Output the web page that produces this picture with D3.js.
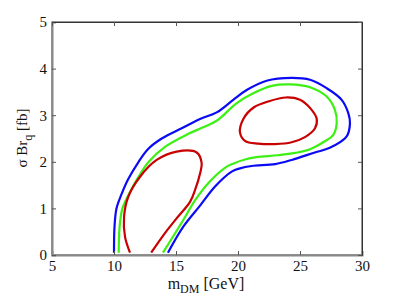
<!DOCTYPE html>
<html><head><meta charset="utf-8">
<script src="https://cdn.jsdelivr.net/npm/d3@7"></script>
<style>body{margin:0;background:#fff}svg{display:block}</style>
</head><body>
<script>
const xTicks = [5,10,15,20,25,30];
const yTicks = [0,1,2,3,4,5];
// contour level curves [x (GeV), y (fb)]
const blueCurve = [[10.0,0.05],[10.04,0.6],[10.2,1.0],[10.6,1.3],[11.15,1.63],[11.96,1.99],[12.77,2.28],[13.85,2.5],[15.46,2.72],[16.94,2.92],[18.28,3.06],[19.62,3.33],[20.70,3.54],[22.31,3.74],[24.33,3.80],[25.81,3.76],[27.15,3.58],[28.36,3.33],[28.90,3.04],[29.03,2.83],[28.75,2.54],[27.4,2.3],[26.2,2.2],[24.33,2.04],[23.0,1.95],[21.1,1.91],[20.16,1.86],[19.49,1.79],[18.15,1.47],[16.94,1.06],[15.59,0.61],[14.35,0.05]];
const greenCurve = [[10.38,0.05],[10.45,0.6],[10.68,1.0],[11.25,1.33],[11.96,1.67],[12.77,1.99],[14.11,2.32],[16.0,2.6],[17.1,2.73],[18.28,2.88],[19.90,3.26],[21.23,3.47],[22.72,3.63],[24.19,3.66],[25.81,3.60],[27.15,3.40],[27.82,3.11],[27.96,2.83],[27.69,2.58],[27.0,2.44],[25.81,2.27],[24.6,2.19],[23.2,2.14],[21.5,2.1],[20.56,2.05],[19.6,1.96],[18.95,1.87],[17.6,1.54],[16.53,1.17],[15.59,0.75],[13.95,0.05]];
const redCurveA = [[11.29,0.05],[10.89,0.39],[10.81,0.82],[11.15,1.25],[12.10,1.68],[13.44,2.04],[15.06,2.22],[16.67,2.20],[17.07,1.97],[16.94,1.75],[16.53,1.39],[16.13,1.14],[15.06,0.79],[14.11,0.47],[13.0,0.05]];
const redCurveB = [[20.16,2.63],[20.43,2.92],[21.29,3.17],[22.50,3.30],[23.87,3.38],[25.0,3.33],[25.89,3.13],[26.35,2.92],[26.21,2.72],[25.40,2.53],[24.33,2.42],[22.98,2.38],[21.64,2.39],[20.56,2.45]];

const W=399,H=299, L=52,R=362,T=22,B=255;
const svg=d3.select("body").append("svg").attr("width",W).attr("height",H);
const x=d3.scaleLinear().domain([5,30]).range([L,R]);
const y=d3.scaleLinear().domain([0,5]).range([B,T]);
const font="'Liberation Serif','Times New Roman',serif";

// frame
svg.append("rect").attr("x",L).attr("y",T).attr("width",R-L).attr("height",B-T).attr("fill","#fff").attr("stroke","#333").attr("stroke-width",1);

const line=d3.line().x(d=>x(d[0])).y(d=>y(d[1])).curve(d3.curveCatmullRom.alpha(0.5));
const lineC=d3.line().x(d=>x(d[0])).y(d=>y(d[1])).curve(d3.curveCatmullRomClosed.alpha(0.5));
const g=svg.append("g");
g.append("path").attr("d",line(blueCurve)).attr("fill","none").attr("stroke","#0a0af5").attr("stroke-width",2.2);
g.append("path").attr("d",line(greenCurve)).attr("fill","none").attr("stroke","#3cf014").attr("stroke-width",2.2);
g.append("path").attr("d",line(redCurveA)).attr("fill","none").attr("stroke","#c80000").attr("stroke-width",2.2);
g.append("path").attr("d",lineC(redCurveB)).attr("fill","none").attr("stroke","#c80000").attr("stroke-width",2.2);

// axes
const xa=svg.append("g").attr("transform",`translate(0,${B})`).call(d3.axisBottom(x).tickValues(xTicks).tickSize(-4).tickPadding(5).tickFormat(d3.format("d")));
const ya=svg.append("g").attr("transform",`translate(${L},0)`).call(d3.axisLeft(y).tickValues(yTicks).tickSize(-4).tickPadding(5).tickFormat(d3.format("d")));
const xt=svg.append("g").attr("transform",`translate(0,${T})`).call(d3.axisTop(x).tickValues(xTicks).tickSize(-4).tickFormat(""));
const yr=svg.append("g").attr("transform",`translate(${R},0)`).call(d3.axisRight(y).tickValues(yTicks).tickSize(-4).tickFormat(""));
[xa,ya].forEach(a=>{a.select(".domain").attr("stroke","#888").attr("stroke-width",2);a.selectAll(".tick line").attr("stroke","#555");a.selectAll("text").attr("font-family",font).attr("font-size",15).attr("fill","#111");});
[xt,yr].forEach(a=>{a.select(".domain").attr("stroke","#333");a.selectAll(".tick line").attr("stroke","#555");});

// labels
const xl=svg.append("text").attr("x",206).attr("y",289).attr("text-anchor","middle").attr("font-family",font).attr("font-size",16).attr("fill","#111");
xl.append("tspan").text("m");
xl.append("tspan").attr("dy",4).attr("font-size",12).text("DM");
xl.append("tspan").attr("dy",-4).text(" [GeV]");
const yl=svg.append("text").attr("transform","translate(27,138) rotate(-90)").attr("text-anchor","middle").attr("font-family",font).attr("font-size",15).attr("fill","#111");
yl.append("tspan").text("σ Br");
yl.append("tspan").attr("dy",5).attr("font-size",12).text("q");
yl.append("tspan").attr("dy",-5).text(" [fb]");
</script>
</body></html>
